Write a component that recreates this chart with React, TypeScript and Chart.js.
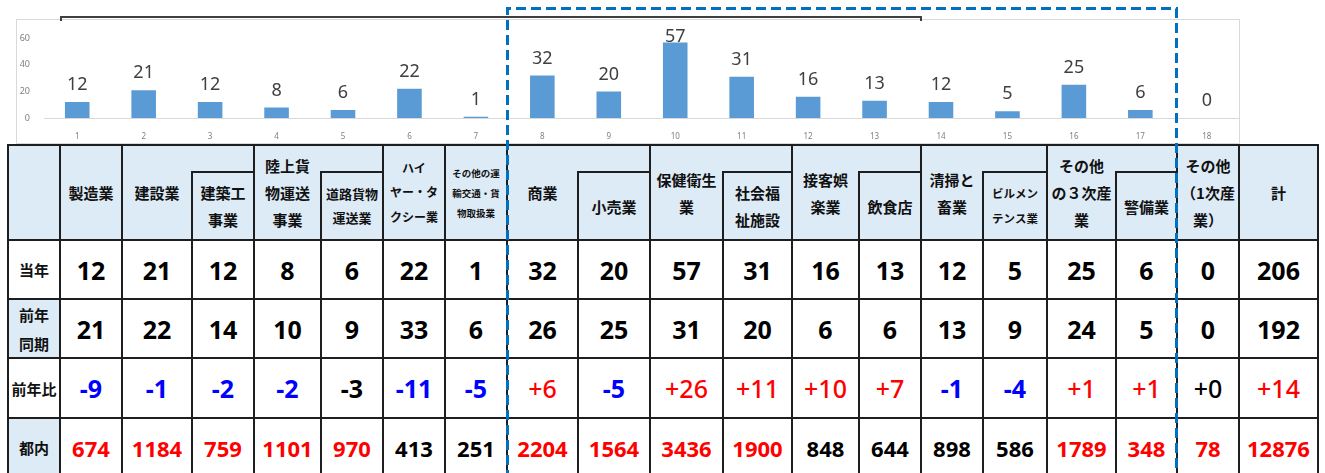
import React, { useEffect, useRef } from "react";
import { Chart, registerables } from "chart.js";

Chart.register(...registerables);

// ---------- data ----------
const chartLabels = ["1", "2", "3", "4", "5", "6", "7", "8", "9", "10", "11", "12", "13", "14", "15", "16", "17", "18"];
const industries = [
  "製造業", "建設業", "建築工事業", "陸上貨物運送事業", "道路貨物運送業", "ハイヤー・タクシー業",
  "その他の運輸交通・貨物取扱業", "商業", "小売業", "保健衛生業", "社会福祉施設", "接客娯楽業",
  "飲食店", "清掃と畜業", "ビルメンテンス業", "その他の３次産業", "警備業", "その他（1次産業）", "計",
];
const headerLines = [
  ["製造業"], ["建設業"], ["建築工", "事業"], ["陸上貨", "物運送", "事業"], ["道路貨物", "運送業"],
  ["ハイ", "ヤー・タ", "クシー業"], ["その他の運", "輸交通・貨", "物取扱業"], ["商業"], ["小売業"],
  ["保健衛生", "業"], ["社会福", "祉施設"], ["接客娯", "楽業"], ["飲食店"], ["清掃と", "畜業"],
  ["ビルメン", "テンス業"], ["その他", "の３次産", "業"], ["警備業"], ["その他", "（1次産", "業）"], ["計"],
];
const rowLabels = [["当年"], ["前年", "同期"], ["前年比"], ["都内"]];
const currentYear = [12, 21, 12, 8, 6, 22, 1, 32, 20, 57, 31, 16, 13, 12, 5, 25, 6, 0, 206];
const previousYear = [21, 22, 14, 10, 9, 33, 6, 26, 25, 31, 20, 6, 6, 13, 9, 24, 5, 0, 192];
const yearOnYear = [-9, -1, -2, -2, -3, -11, -5, 6, -5, 26, 11, 10, 7, -1, -4, 1, 1, 0, 14];
const tokyoTotal = [674, 1184, 759, 1101, 970, 413, 251, 2204, 1564, 3436, 1900, 848, 644, 898, 586, 1789, 348, 78, 12876];
const yoyPlainIdx = [4, 17];
const tokyoPlainIdx = [5, 6, 11, 12, 13, 14];
const chartValues = currentYear.slice(0, chartLabels.length);

// ---------- layout ----------
const colEdges = [8, 60, 122, 192, 254, 321, 383, 445, 507, 578, 650, 723, 792, 859, 921, 983, 1047, 1116, 1177, 1239, 1318];
const childCols = [2, 4, 8, 10, 12, 14, 16];
const headTop = 145;
const subTop = 172;
const headBottom = 240;
const rowEdges = [240, 299, 358, 418, 477];
const HEAD_BG = "#ddebf7";
const LINE = "#1e1e1e";
const CJK = '"Noto Sans CJK JP", "Noto Sans", sans-serif';
const NUM = '"Noto Sans", "Noto Sans CJK JP", sans-serif';

const headerFont: Record<number, { size: number; lh: number }> = {
  4: { size: 13, lh: 24 },
  5: { size: 12, lh: 24.5 },
  6: { size: 9.5, lh: 20 },
  14: { size: 11.5, lh: 25 },
};

function Line({ x, y, w, h }: { x: number; y: number; w: number; h: number }) {
  return <div style={{ position: "absolute", left: x, top: y, width: w, height: h, background: LINE }} />;
}

function TextBox({ x0, x1, y0, y1, lines, size, lh, weight, color, family, bg }: any) {
  return (
    <div
      style={{
        position: "absolute", left: x0, top: y0, width: x1 - x0, height: y1 - y0,
        display: "flex", flexDirection: "column", alignItems: "center", justifyContent: "center",
        fontFamily: family, fontSize: size, fontWeight: weight, color, background: bg || "transparent",
        lineHeight: `${lh}px`, whiteSpace: "nowrap",
      }}
    >
      {lines.map((l: string, i: number) => (
        <div key={i}>{l}</div>
      ))}
    </div>
  );
}

const barLabelPlugin = {
  id: "barLabels",
  afterDatasetsDraw(chart: any) {
    const { ctx } = chart;
    const meta = chart.getDatasetMeta(0);
    const data = chart.data.datasets[0].data;
    ctx.save();
    ctx.font = '18px "Noto Sans", sans-serif';
    ctx.fillStyle = "#404040";
    ctx.textAlign = "center";
    ctx.textBaseline = "middle";
    meta.data.forEach((bar: any, i: number) => {
      const y = Math.max(bar.y - 17, 17.5);
      ctx.fillText(String(data[i]), bar.x, y);
    });
    ctx.restore();
  },
};

function BarChart() {
  const ref = useRef<HTMLCanvasElement | null>(null);
  useEffect(() => {
    if (!ref.current) return;
    Chart.defaults.font.family = '"Noto Sans", sans-serif';
    const chart = new Chart(ref.current, {
      type: "bar",
      data: {
        labels: chartLabels,
        datasets: [
          {
            data: chartValues,
            backgroundColor: "#5b9bd5",
            borderWidth: 0,
            barPercentage: 0.37,
            categoryPercentage: 1,
          },
        ],
      },
      options: {
        animation: false,
        responsive: false,
        devicePixelRatio: 1,
        layout: { padding: { top: 16, left: 0, right: 0, bottom: 0 } },
        plugins: { legend: { display: false }, tooltip: { enabled: false } },
        scales: {
          x: {
            grid: { display: false, drawTicks: false },
            border: { display: true, color: "#d9d9d9", width: 1 },
            ticks: { color: "#808080", font: { size: 8 }, padding: 14, maxRotation: 0, autoSkip: false },
            afterFit: (s: any) => { s.height = 25; },
          },
          y: {
            min: 0,
            max: 60,
            ticks: { stepSize: 20, color: "#808080", font: { size: 9 }, padding: 14 },
            grid: { display: false, drawTicks: false },
            border: { display: false },
            afterFit: (s: any) => { s.width = 28; },
          },
        },
      },
      plugins: [barLabelPlugin],
    } as any);
    return () => chart.destroy();
  }, []);
  return <canvas ref={ref} width={1224} height={124} style={{ position: "absolute", left: 16, top: 19, width: 1224, height: 124 }} />;
}

function Table() {
  const els: any[] = [];
  const left = colEdges[0];
  const right = colEdges[colEdges.length - 1];
  els.push(<div key="hbg" style={{ position: "absolute", left, top: headTop, width: right - left, height: headBottom - headTop, background: HEAD_BG }} />);
  els.push(<div key="bbg" style={{ position: "absolute", left, top: headBottom, width: right - left, height: 477 - headBottom, background: "#fff" }} />);
  rowLabels.forEach((lines, r) => {
    els.push(
      <TextBox key={`rl${r}`} x0={colEdges[0]} x1={colEdges[1]} y0={rowEdges[r]} y1={rowEdges[r + 1]} lines={lines}
        size={15} lh={29} weight={700} color="#111" family={CJK} bg={r % 2 === 1 ? HEAD_BG : "#fff"} />
    );
  });
  industries.forEach((_, j) => {
    const x0 = colEdges[j + 1];
    const x1 = colEdges[j + 2];
    const f = headerFont[j] || { size: 15, lh: 27 };
    const isChild = childCols.includes(j);
    els.push(
      <TextBox key={`h${j}`} x0={x0} x1={x1} y0={isChild ? subTop : headTop} y1={headBottom} lines={headerLines[j]}
        size={f.size} lh={f.lh} weight={700} color="#111" family={CJK} />
    );
  });
  const rows = [currentYear, previousYear, yearOnYear, tokyoTotal];
  rows.forEach((vals, r) => {
    vals.forEach((v, j) => {
      let text = String(v);
      let color = "#000";
      let size = 25;
      let weight = 700;
      if (r === 2) {
        text = v > 0 ? `+${v}` : v === 0 ? "+0" : `${v}`;
        if (!yoyPlainIdx.includes(j)) color = v < 0 ? "#0000ff" : "#ff0000";
        if (v >= 0) weight = 500;
      }
      if (r === 3) {
        size = 22;
        color = tokyoPlainIdx.includes(j) ? "#000" : "#ff0000";
      }
      els.push(
        <TextBox key={`v${r}-${j}`} x0={colEdges[j + 1]} x1={colEdges[j + 2]} y0={rowEdges[r]} y1={rowEdges[r + 1]}
          lines={[text]} size={size} lh={30} weight={weight} color={color} family={NUM} />
      );
    });
  });
  [headTop, ...rowEdges.slice(0, 4)].forEach((y, i) => {
    els.push(<Line key={`hl${i}`} x={left - 1} y={y - 1} w={right - left + 2} h={2} />);
  });
  childCols.forEach((j) => {
    const x0 = colEdges[j + 1];
    const x1 = colEdges[j + 2];
    els.push(<Line key={`st${j}`} x={x0 - 1} y={subTop - 1} w={x1 - x0 + 1} h={2} />);
    els.push(<Line key={`sv${j}`} x={x0 - 1} y={subTop - 1} w={2} h={headBottom - subTop + 1} />);
  });
  colEdges.forEach((x, e) => {
    const dataCol = e - 1;
    const isChildLeft = childCols.includes(dataCol);
    const y0 = isChildLeft ? headBottom : headTop;
    els.push(<Line key={`vl${e}`} x={x - 1} y={y0 - 1} w={2} h={480 - y0} />);
  });
  return <>{els}</>;
}

export default function App() {
  return (
    <div style={{ position: "fixed", left: 0, top: 0, width: 1325, height: 473, overflow: "hidden", background: "#fff" }}>
      <BarChart />
      <div style={{ position: "absolute", left: 16, top: 19, width: 1224, height: 125, border: "1px solid #d9d9d9", boxSizing: "border-box", pointerEvents: "none" }} />
      <Table />
      <svg width={1325} height={473} style={{ position: "absolute", left: 0, top: 0, pointerEvents: "none" }}>
        <path d="M61 21 L61 17 L921 17 L921 21" fill="none" stroke="#404040" strokeWidth={2} />
        <path d="M507.5 480 L507.5 8.5 L1176.5 8.5 L1176.5 480" fill="none" stroke="#0070c0" strokeWidth={3} strokeDasharray="10 5" />
      </svg>
    </div>
  );
}
